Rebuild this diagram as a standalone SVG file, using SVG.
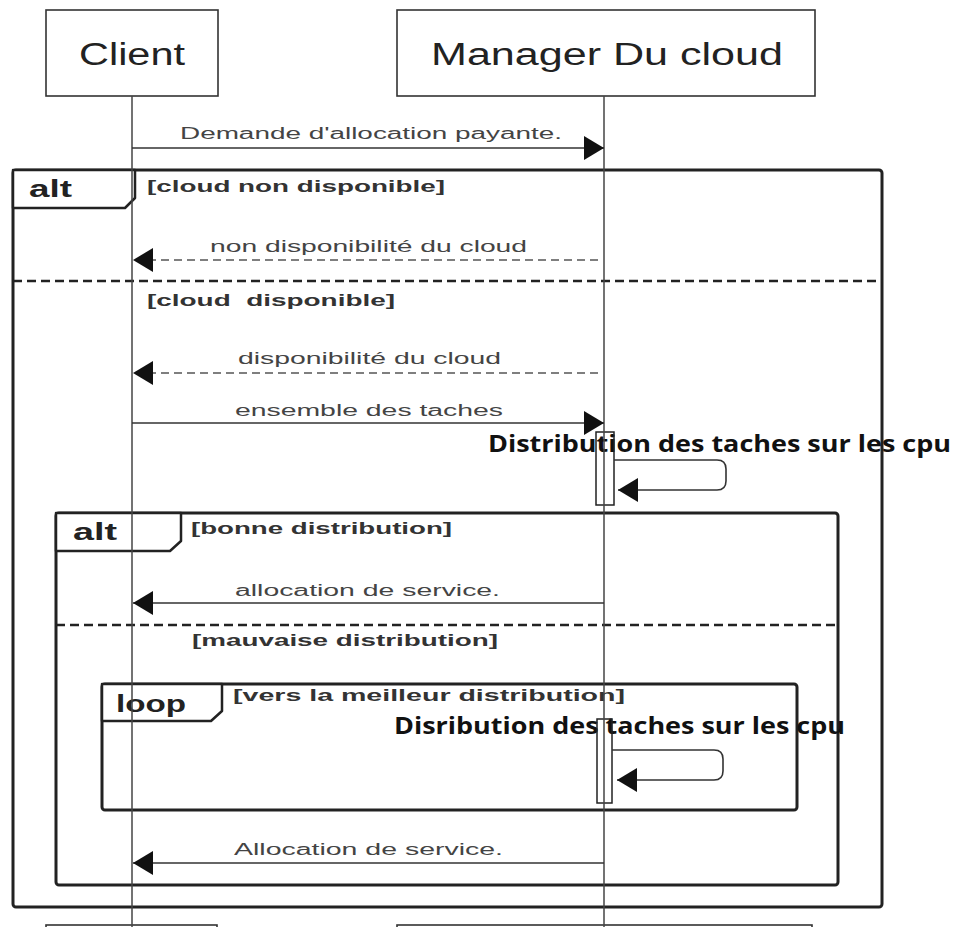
<svg xmlns="http://www.w3.org/2000/svg" width="959" height="927" viewBox="0 0 959 927">
<style>
.box{fill:#fff;stroke:#333;stroke-width:1.6}
.name{font-family:"Liberation Sans",Arial,sans-serif;font-size:31px;fill:#222}
.life{stroke:#444;stroke-width:1.5;fill:none}
.frame{fill:none;stroke:#222;stroke-width:3}
.tab{fill:#fff;stroke:#222;stroke-width:2.5;stroke-linejoin:round}
.sep{stroke:#222;stroke-width:2.5;stroke-dasharray:9,5}
.kw{font-family:"Liberation Sans",Arial,sans-serif;font-weight:bold;font-size:23px;fill:#222}
.cond{font-family:"Liberation Sans",Arial,sans-serif;font-weight:bold;font-size:16px;fill:#333}
.msg{stroke:#333;stroke-width:1.6;fill:none}
.dash{stroke-dasharray:8,5;stroke:#555}
.lbl{font-family:"Liberation Sans",Arial,sans-serif;font-size:16px;fill:#444}
.note{font-family:"Open Sans","Noto Sans",sans-serif;font-weight:bold;font-size:23px;fill:#111}
.act{fill:none;stroke:#222;stroke-width:1.5}
</style>
<defs>
<marker id="ah" markerUnits="userSpaceOnUse" markerWidth="22" markerHeight="26" refX="20" refY="12" orient="auto">
<path d="M0,0 L20,12 L0,24 Z" fill="#111"/>
</marker>
</defs>
<rect width="959" height="927" fill="#fff"/>

<g id="footers">
<rect class="box" x="46" y="925" width="171" height="20"/>
<rect class="box" x="397" y="925" width="415" height="20"/>
</g>

<g id="client">
<rect class="box" x="46" y="10" width="172" height="86"/>
<text class="name" x="132" y="65" text-anchor="middle" textLength="106" lengthAdjust="spacingAndGlyphs">Client</text>
</g>
<g id="manager">
<rect class="box" x="397" y="10" width="418" height="86"/>
<text class="name" x="607" y="65" text-anchor="middle" textLength="352" lengthAdjust="spacingAndGlyphs">Manager Du cloud</text>
</g>

<g id="frames">
<g id="alt-outer">
<rect class="frame" x="13" y="170" width="869" height="737" rx="3"/>
<path class="tab" d="M13,170 H135 V198 L125,208 H13 Z"/>
<text class="kw" x="29" y="197" textLength="43" lengthAdjust="spacingAndGlyphs">alt</text>
<text class="cond" x="147" y="192" textLength="298" lengthAdjust="spacingAndGlyphs">[cloud non disponible]</text>
<line class="sep" x1="13" y1="281" x2="882" y2="281"/>
<text class="cond" x="147" y="306" textLength="248" lengthAdjust="spacingAndGlyphs" xml:space="preserve">[cloud  disponible]</text>
</g>
<g id="alt-inner">
<rect class="frame" x="56" y="513" width="782" height="372" rx="3"/>
<path class="tab" d="M56,513 H181 V541 L170,551 H56 Z"/>
<text class="kw" x="73" y="540" textLength="44" lengthAdjust="spacingAndGlyphs">alt</text>
<text class="cond" x="191" y="534" textLength="261" lengthAdjust="spacingAndGlyphs">[bonne distribution]</text>
<line class="sep" x1="56" y1="625" x2="838" y2="625"/>
<text class="cond" x="192" y="646" textLength="306" lengthAdjust="spacingAndGlyphs">[mauvaise distribution]</text>
</g>
<g id="loop">
<rect class="frame" x="102" y="684" width="695" height="126" rx="3"/>
<path class="tab" d="M102,684 H222 V711 L211,721 H102 Z"/>
<text class="kw" x="116" y="712" textLength="70" lengthAdjust="spacingAndGlyphs">loop</text>
<text class="cond" x="233" y="701" textLength="392" lengthAdjust="spacingAndGlyphs">[vers la meilleur distribution]</text>
</g>
</g>

<g id="notes">
<text class="note" x="488" y="452" textLength="463" lengthAdjust="spacingAndGlyphs">Distribution des taches sur les cpu</text>
<text class="note" x="394" y="734" textLength="451" lengthAdjust="spacingAndGlyphs">Disribution des taches sur les cpu</text>
</g>

<g id="activations">
<rect class="act" x="596" y="432" width="18" height="73"/>
<rect class="act" x="597" y="719" width="15" height="84"/>
</g>

<g id="lifelines">
<line class="life" x1="132" y1="96" x2="132" y2="927"/>
<line class="life" x1="604" y1="96" x2="604" y2="927"/>
</g>

<g id="connectors">
<line class="msg" x1="132" y1="148" x2="604" y2="148" marker-end="url(#ah)"/>
<line class="msg dash" x1="598" y1="260" x2="133" y2="260" marker-end="url(#ah)"/>
<line class="msg dash" x1="598" y1="373" x2="133" y2="373" marker-end="url(#ah)"/>
<line class="msg" x1="132" y1="423" x2="604" y2="423" marker-end="url(#ah)"/>
<path class="msg" d="M614,460 H717 Q726,460 726,469 V481 Q726,490 717,490 H618" marker-end="url(#ah)"/>
<line class="msg" x1="604" y1="603" x2="133" y2="603" marker-end="url(#ah)"/>
<path class="msg" d="M612,750 H714 Q723,750 723,759 V771 Q723,780 714,780 H617" marker-end="url(#ah)"/>
<line class="msg" x1="604" y1="863" x2="133" y2="863" marker-end="url(#ah)"/>
</g>

<g id="labels">
<text class="lbl" x="180" y="139" textLength="382" lengthAdjust="spacingAndGlyphs">Demande d'allocation payante.</text>
<text class="lbl" x="210" y="252" textLength="317" lengthAdjust="spacingAndGlyphs">non disponibilité du cloud</text>
<text class="lbl" x="238" y="364" textLength="263" lengthAdjust="spacingAndGlyphs">disponibilité du cloud</text>
<text class="lbl" x="235" y="416" textLength="268" lengthAdjust="spacingAndGlyphs">ensemble des taches</text>
<text class="lbl" x="235" y="596" textLength="265" lengthAdjust="spacingAndGlyphs">allocation de service.</text>
<text class="lbl" x="234" y="855" textLength="269" lengthAdjust="spacingAndGlyphs">Allocation de service.</text>
</g>
</svg>
